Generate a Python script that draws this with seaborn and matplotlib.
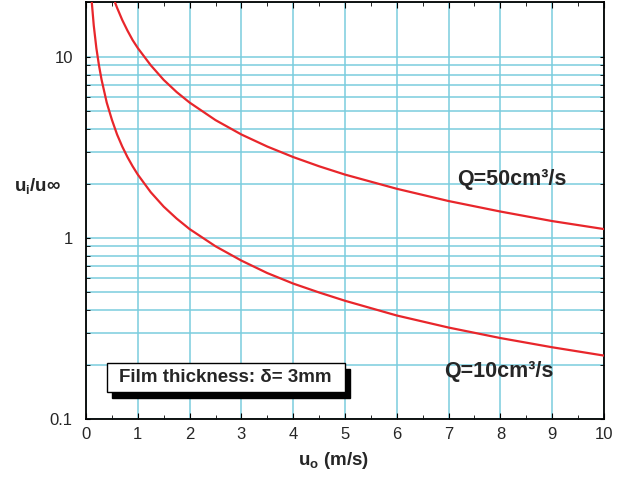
import matplotlib
matplotlib.use("Agg")
import matplotlib.pyplot as plt
import numpy as np
import pandas as pd
import seaborn as sns
from matplotlib.patches import Rectangle
from matplotlib.ticker import FixedLocator, FixedFormatter, LogLocator, NullFormatter, MultipleLocator

# ---- data ----
u_o_q10 = [0.112, 0.15, 0.2, 0.25, 0.3, 0.4, 0.5, 0.6, 0.7, 0.8, 0.9, 1.0, 1.25, 1.5, 1.75, 2.0, 2.5, 3.0, 3.5, 4.0, 4.5, 5.0, 6.0, 7.0, 8.0, 9.0, 10.0]
ratio_q10 = [20.0, 14.9, 11.2, 9.0, 7.5, 5.6, 4.5, 3.73, 3.2, 2.8, 2.49, 2.24, 1.79, 1.49, 1.28, 1.12, 0.9, 0.75, 0.64, 0.56, 0.5, 0.45, 0.373, 0.32, 0.28, 0.249, 0.224]
u_o_q50 = [0.56, 0.6, 0.7, 0.8, 0.9, 1.0, 1.25, 1.5, 1.75, 2.0, 2.5, 3.0, 3.5, 4.0, 4.5, 5.0, 6.0, 7.0, 8.0, 9.0, 10.0]
ratio_q50 = [20.0, 18.7, 16.0, 14.0, 12.4, 11.2, 9.0, 7.47, 6.4, 5.6, 4.48, 3.73, 3.2, 2.8, 2.49, 2.24, 1.87, 1.6, 1.4, 1.24, 1.12]
series_labels = ["Q=10cm³/s", "Q=50cm³/s"]
x_ticks = [0, 1, 2, 3, 4, 5, 6, 7, 8, 9, 10]
y_ticks = [0.1, 1, 10]
y_tick_labels = ["0.1", "1", "10"]
note_text = "Film thickness: δ= 3mm"

sns.set_style("white")
plt.rcParams["font.family"] = ["Liberation Sans", "DejaVu Sans"]
plt.rcParams["mathtext.fontset"] = "custom"
plt.rcParams["mathtext.rm"] = "Liberation Sans"
plt.rcParams["mathtext.bf"] = "Liberation Sans:bold"
plt.rcParams["mathtext.it"] = "Liberation Sans:italic"

df = pd.DataFrame({
    "u_o": u_o_q10 + u_o_q50,
    "ratio": ratio_q10 + ratio_q50,
    "Q": [series_labels[0]] * len(u_o_q10) + [series_labels[1]] * len(u_o_q50),
})

grid_c = "#7acdde"
red = "#e8262b"

fig = plt.figure(figsize=(6.38, 4.8), dpi=100)
ax = fig.add_axes([0.1348, 0.1271, 0.8119, 0.8677])

sns.lineplot(data=df, x="u_o", y="ratio", hue="Q", palette=[red, red],
             legend=False, ax=ax, linewidth=1.6, estimator=None, sort=False, zorder=3)

ax.set_yscale("log")
ax.set_xlim(0, 10)
ax.set_ylim(0.1, 20)

ax.xaxis.set_major_locator(FixedLocator(x_ticks))
ax.xaxis.set_major_formatter(FixedFormatter([str(t) for t in x_ticks]))
ax.xaxis.set_minor_locator(MultipleLocator(0.5))
ax.yaxis.set_major_locator(FixedLocator(y_ticks))
ax.yaxis.set_major_formatter(FixedFormatter(y_tick_labels))
ax.yaxis.set_minor_locator(LogLocator(base=10, subs=np.arange(2, 10)))
ax.yaxis.set_minor_formatter(NullFormatter())

ax.set_axisbelow(True)
ax.grid(False)
ax.grid(which="major", axis="x", color=grid_c, linewidth=1.1)
ax.grid(which="both", axis="y", color=grid_c, linewidth=1.1)

ax.tick_params(axis="x", which="both", direction="in", top=True, bottom=True,
               labelsize=12, pad=6, color="black")
ax.tick_params(axis="x", which="major", length=4)
ax.tick_params(axis="x", which="minor", length=3)
ax.tick_params(axis="y", which="both", direction="in", left=True, right=True,
               labelsize=12, pad=9.5, length=3, color="black")

for s in ax.spines.values():
    s.set_color("black")
    s.set_linewidth(1.3)

ax.set_xlabel("")
ax.set_ylabel("")
ax.text(0.477, -0.10, r"$\mathbf{u_o}$ (m/s)", transform=ax.transAxes,
        ha="center", va="center", fontsize=13.5, fontweight="bold")
ax.text(-0.093, 0.56, r"$\mathbf{u_i}$/u∞", transform=ax.transAxes,
        ha="center", va="center", fontsize=13.5, fontweight="bold")

ax.text(0.716, 0.576, series_labels[1], transform=ax.transAxes,
        ha="left", va="center", fontsize=15.5, fontweight="bold", zorder=5)
ax.text(0.691, 0.113, series_labels[0], transform=ax.transAxes,
        ha="left", va="center", fontsize=15.5, fontweight="bold", zorder=5)

# note box with drop shadow
bx0, by0, bw, bh = 0.0405, 0.0648, 0.4595, 0.0697
ax.add_patch(Rectangle((bx0 + 5 / 518, by0 - 6 / 416.5), bw, bh, transform=ax.transAxes,
                       facecolor="black", edgecolor="black", zorder=6, clip_on=False))
ax.add_patch(Rectangle((bx0, by0), bw, bh, transform=ax.transAxes,
                       facecolor="white", edgecolor="black", linewidth=1.0, zorder=7, clip_on=False))
ax.text(0.0637, 0.0996, note_text, transform=ax.transAxes, ha="left", va="center",
        fontsize=13.5, fontweight="bold", zorder=8)

fig.savefig("out.png", dpi=100)
